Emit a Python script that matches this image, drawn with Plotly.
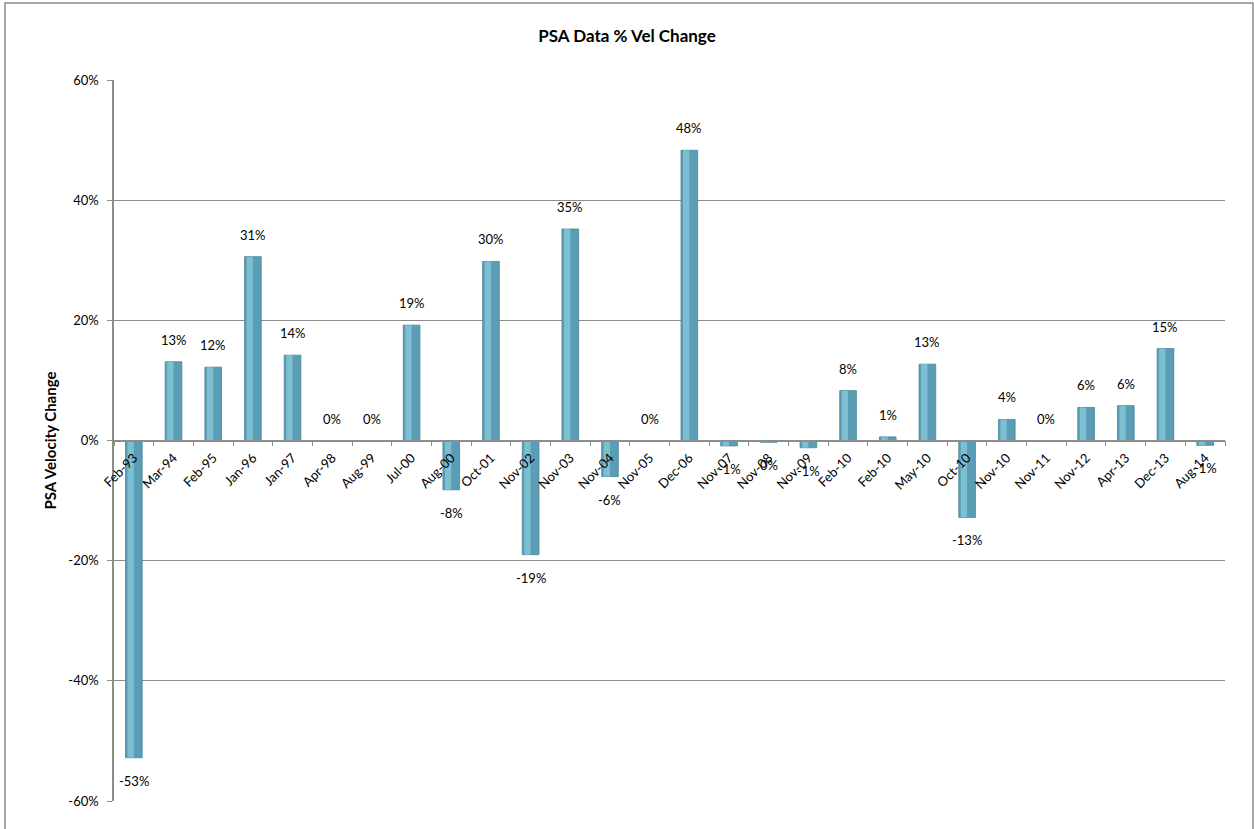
import plotly.graph_objects as go

categories = ["Feb-93", "Mar-94", "Feb-95", "Jan-96", "Jan-97", "Apr-98", "Aug-99", "Jul-00",
              "Aug-00", "Oct-01", "Nov-02", "Nov-03", "Nov-04", "Nov-05", "Dec-06", "Nov-07",
              "Nov-08", "Nov-09", "Feb-10", "Feb-10", "May-10", "Oct-10", "Nov-10", "Nov-11",
              "Nov-12", "Apr-13", "Dec-13", "Aug-14"]
vel_change = [-52.8, 13.1, 12.2, 30.6, 14.2, 0.0, 0.0, 19.2, -8.2, 29.8, -19.0, 35.2, -6.0, 0.0,
              48.3, -0.9, -0.3, -1.2, 8.3, 0.6, 12.7, -12.8, 3.5, 0.0, 5.5, 5.8, 15.3, -0.8]
y_ticks = [-60, -40, -20, 0, 20, 40, 60]
y_tick_text = ["-60%", "-40%", "-20%", "0%", "20%", "40%", "60%"]

x = list(range(len(categories)))
labels = [f"{int(round(v))}%" for v in vel_change]

font_family = "Lato, 'Open Sans', sans-serif"
grid_col = "#8c8c8c"

fig = go.Figure()
fig.add_trace(go.Bar(
    x=x, y=vel_change, width=0.42,
    marker=dict(color="#5a9db4", line=dict(color="#4a8499", width=0.8)),
    hoverinfo="skip", showlegend=False,
))
fig.add_trace(go.Bar(
    x=x, y=vel_change, width=0.16, offset=-0.16,
    marker=dict(color="#88cbde", line=dict(width=0)),
    opacity=0.75, hoverinfo="skip", showlegend=False,
))

annotations = []
for xi, v, t in zip(x, vel_change, labels):
    neg = v < 0
    annotations.append(dict(
        x=xi, y=v, xref="x", yref="y", text=t, showarrow=False,
        yanchor="middle", xanchor="center",
        yshift=-23 if neg else 22,
        font=dict(family=font_family, size=13, color="#000000"),
    ))

fig.update_layout(
    width=1254, height=829,
    margin=dict(l=114, r=29, t=80, b=28),
    paper_bgcolor="white", plot_bgcolor="white",
    barmode="overlay",
    title=dict(text="<b>PSA Data % Vel Change</b>", x=0.5, xanchor="center",
               y=1 - 36 / 829, yanchor="middle",
               font=dict(family=font_family, size=17, color="#000000")),
    font=dict(family=font_family, size=13, color="#000000"),
    xaxis=dict(
        range=[-0.5, len(categories) - 0.5],
        tickmode="array", tickvals=x, ticktext=categories,
        tickangle=-45, ticks="", showgrid=False, zeroline=False,
        showline=True, linecolor=grid_col, linewidth=1.5,
        anchor="free", position=0.5, ticklabelstandoff=4,
        minor=dict(tickmode="linear", tick0=-0.5, dtick=1, ticks="outside",
                   ticklen=5, tickcolor=grid_col, tickwidth=1.2, showgrid=False),
        tickfont=dict(family=font_family, size=13, color="#000000"),
    ),
    yaxis=dict(
        range=[-60, 60], tickmode="array", tickvals=y_ticks, ticktext=y_tick_text,
        showgrid=True, gridcolor=grid_col, gridwidth=1.3,
        zeroline=False, showline=True, linecolor=grid_col, linewidth=1.5,
        ticks="outside", ticklen=5, tickcolor=grid_col, ticklabelstandoff=6,
        tickfont=dict(family=font_family, size=13, color="#000000"),
        title=dict(text="<b>PSA Velocity Change</b>", standoff=8,
                   font=dict(family=font_family, size=15, color="#000000")),
    ),
    annotations=annotations,
    shapes=[dict(type="rect", xref="paper", yref="paper",
                 x0=(5 - 114) / 1111, x1=(1253 - 114) / 1111,
                 y0=(801 - 835) / 721, y1=(801 - 3) / 721,
                 line=dict(color="#8c8c8c", width=1.5), fillcolor="rgba(0,0,0,0)",
                 layer="below")],
)

fig.write_html("out.html")
